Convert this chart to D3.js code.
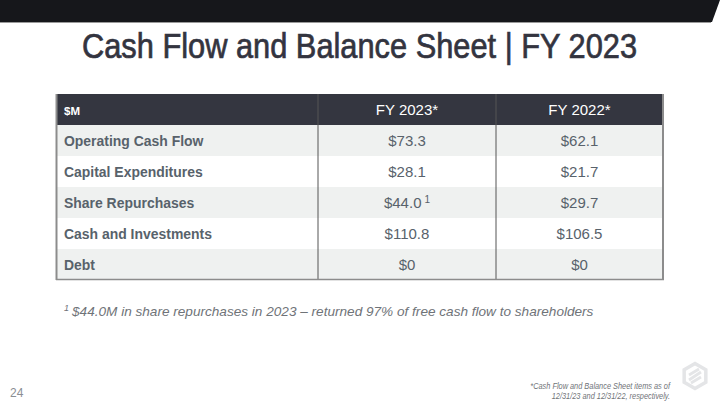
<!DOCTYPE html>
<html><head><meta charset="utf-8">
<script src="https://cdn.jsdelivr.net/npm/d3@7"></script>
<style>
html,body{margin:0;padding:0;background:#fff;}
svg{display:block;}
</style></head>
<body>
<script>
const title = "Cash Flow and Balance Sheet | FY 2023";
const headerLabels = ["$M", "FY 2023*", "FY 2022*"];
const rowLabels = ["Operating Cash Flow", "Capital Expenditures", "Share Repurchases", "Cash and Investments", "Debt"];
const fy2023 = ["$73.3", "$28.1", "$44.0", "$110.8", "$0"];
const fy2022 = ["$62.1", "$21.7", "$29.7", "$106.5", "$0"];
const fy2023Notes = ["", "", "1", "", ""];
const footnote = "$44.0M in share repurchases in 2023 – returned 97% of free cash flow to shareholders";
const pageNumber = "24";
const sideNote = ["*Cash Flow and Balance Sheet items as of", "12/31/23 and 12/31/22, respectively."];

const W = 720, H = 405;
const sans = "'Liberation Sans',Arial,sans-serif";
const svg = d3.select("body").append("svg").attr("width", W).attr("height", H);

// top bar
svg.append("path").attr("d", "M0,0 L720,0 L712,22 L0,22 Z").attr("fill", "#16171b");
svg.append("line").attr("x1", 0).attr("x2", 711).attr("y1", 22.5).attr("y2", 22.5).attr("stroke", "#9a9a9a").attr("stroke-width", 1);

// title
svg.append("text").attr("x", 82).attr("y", 58)
  .attr("font-family", sans).attr("font-size", 35).attr("fill", "#33343f")
  .attr("stroke", "#33343f").attr("stroke-width", 0.7)
  .attr("textLength", 555).attr("lengthAdjust", "spacingAndGlyphs").text(title);

// table scales
const colEdges = [56, 318, 496, 663];
const y = d3.scaleBand().domain(d3.range(rowLabels.length + 1)).range([94, 280]);
const rh = y.bandwidth();

const g = svg.append("g");
g.append("rect").attr("x", 56).attr("y", y(0)).attr("width", 663-56).attr("height", rh).attr("fill", "#343640");
const rows = rowLabels.map((l, i) => ({label: l, a: fy2023[i], b: fy2022[i], n: fy2023Notes[i], i}));
g.selectAll(".row").data(rows).join("rect")
  .attr("x", 56).attr("y", d => y(d.i + 1)).attr("width", 663-56).attr("height", rh)
  .attr("fill", d => d.i % 2 === 0 ? "#eff1f0" : "#ffffff");

const bColor = "#8c8c8c";
[318, 496].forEach(cx => {
  g.append("line").attr("x1", cx).attr("x2", cx).attr("y1", y(0)).attr("y2", 280).attr("stroke", "#555").attr("stroke-width", 1);
});
g.append("line").attr("x1", 56.5).attr("x2", 56.5).attr("y1", y(0)).attr("y2", 280).attr("stroke", bColor).attr("stroke-width", 2);
g.append("line").attr("x1", 663).attr("x2", 663).attr("y1", y(0)).attr("y2", 280).attr("stroke", bColor).attr("stroke-width", 2);
g.append("line").attr("x1", 56).attr("x2", 664).attr("y1", 279.5).attr("y2", 279.5).attr("stroke", bColor).attr("stroke-width", 1.5);

headerLabels.forEach((h, j) => {
  const tx = j === 0 ? 64 : (colEdges[j] + colEdges[j+1]) / 2;
  g.append("text").attr("x", tx).attr("y", y(0) + rh/2 + 5)
    .attr("text-anchor", j === 0 ? "start" : "middle")
    .attr("font-family", sans)
    .attr("font-weight", j === 0 ? "bold" : "normal")
    .attr("font-size", j === 0 ? 11.5 : 15).attr("fill", "#ffffff").text(h);
});

const txtColor = "#58626b";
g.selectAll(".lbl").data(rows).join("text")
  .attr("transform", d => `translate(64,${y(d.i + 1) + rh/2 + 5.5}) scale(0.9,1)`)
  .attr("font-family", sans).attr("font-weight", "bold").attr("font-size", 15.5)
  .attr("fill", txtColor).text(d => d.label);

const c1 = (colEdges[1] + colEdges[2]) / 2, c2 = (colEdges[2] + colEdges[3]) / 2;
g.selectAll(".v1").data(rows).join("text")
  .attr("x", c1).attr("y", d => y(d.i + 1) + rh/2 + 5.5)
  .attr("text-anchor", "middle").attr("font-family", sans).attr("font-size", 15)
  .attr("fill", txtColor)
  .each(function(d){
    const t = d3.select(this);
    t.append("tspan").text(d.a);
    if (d.n) t.append("tspan").attr("dx", 3).attr("dy", -5).attr("font-size", 10).text(d.n);
  });
g.selectAll(".v2").data(rows).join("text")
  .attr("x", c2).attr("y", d => y(d.i + 1) + rh/2 + 5.5)
  .attr("text-anchor", "middle").attr("font-family", sans).attr("font-size", 15)
  .attr("fill", txtColor).text(d => d.b);

// footnote
const fn = svg.append("text").attr("transform", "translate(64,316)").attr("font-family", sans)
  .attr("font-style", "italic").attr("font-size", 13.6).attr("fill", "#6f7378");
fn.append("tspan").attr("font-size", 9).attr("dy", -5).text("1");
fn.append("tspan").attr("dx", 3).attr("dy", 5).text(footnote);

// page number
svg.append("text").attr("x", 10).attr("y", 397).attr("font-family", sans)
  .attr("font-size", 12).attr("fill", "#8a8e93").text(pageNumber);

// side note
sideNote.forEach((s, i) => {
  svg.append("text").attr("transform", `translate(670,${389 + i * 9.5}) scale(0.82,1)`).attr("text-anchor", "end")
    .attr("font-family", sans).attr("font-style", "italic").attr("font-size", 9).attr("fill", "#6f7378").text(s);
});

// logo (hexagon)
const lg = svg.append("g").attr("transform", "translate(695,376)");
const hex = d3.range(6).map(k => { const a = Math.PI/3*k - Math.PI/2; return [12.5*Math.cos(a), 12.5*Math.sin(a)]; });
lg.append("path").attr("d", "M" + hex.join("L") + "Z").attr("fill", "none").attr("stroke", "#e4e5e7").attr("stroke-width", 3.5);
lg.append("path").attr("d", "M-6,-1 L4,-7 M-4,7 L6,1 M-6,4 L6,-4").attr("stroke", "#e4e5e7").attr("stroke-width", 2.8).attr("fill", "none");
</script>
</body></html>
